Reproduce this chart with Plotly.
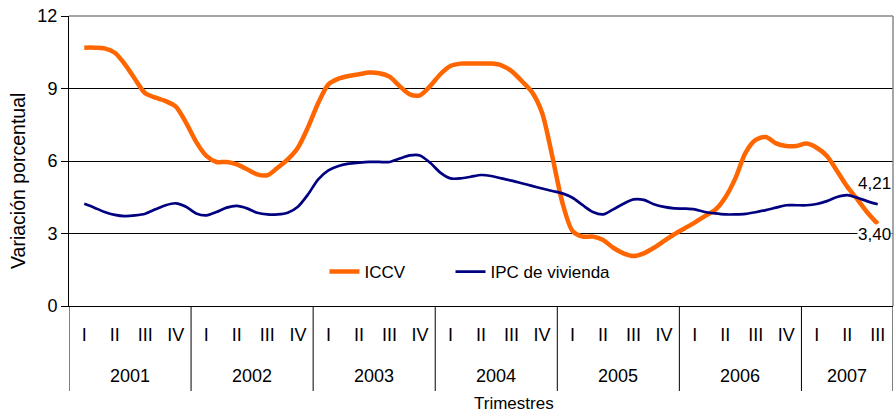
import numpy as np
import plotly.graph_objects as go

# Monthly series, Jan 2001 .. Sep 2007 (79 points, first/last at centre of first/last quarter)
iccv = [10.69, 10.69, 10.66, 10.48, 10.0, 9.38, 8.8, 8.62, 8.48, 8.25, 7.59, 6.79, 6.21, 5.96, 5.96, 5.86, 5.66, 5.45, 5.41, 5.72,
        6.07, 6.55, 7.4, 8.4, 9.17, 9.41, 9.52, 9.59, 9.66, 9.63, 9.49, 9.10, 8.76, 8.72, 9.10, 9.59, 9.93, 10.03, 10.03, 10.03,
        10.03, 9.96, 9.72, 9.31, 8.86, 8.0, 6.21, 4.28, 3.10, 2.87, 2.87, 2.73, 2.41, 2.18, 2.07, 2.18, 2.41, 2.69, 2.97, 3.21,
        3.45, 3.72, 3.97, 4.48, 5.28, 6.34, 6.87, 6.99, 6.73, 6.62, 6.62, 6.72, 6.55, 6.21, 5.59, 4.94, 4.41, 3.86, 3.40]
ipc_vivienda = [4.23, 4.07, 3.89, 3.77, 3.72, 3.75, 3.82, 4.0, 4.17, 4.25, 4.11, 3.83, 3.75, 3.89, 4.07, 4.14, 4.04, 3.86, 3.79, 3.79,
                3.86, 4.11, 4.62, 5.24, 5.61, 5.79, 5.89, 5.93, 5.96, 5.96, 5.96, 6.10, 6.23, 6.23, 5.93, 5.52, 5.28, 5.28, 5.35, 5.42,
                5.38, 5.28, 5.19, 5.08, 4.97, 4.86, 4.76, 4.66, 4.48, 4.17, 3.89, 3.79, 4.0, 4.23, 4.41, 4.39, 4.21, 4.10, 4.04, 4.03,
                4.0, 3.89, 3.83, 3.79, 3.79, 3.81, 3.88, 3.97, 4.07, 4.17, 4.17, 4.17, 4.22, 4.34, 4.51, 4.59, 4.48, 4.33, 4.21]

years = ["2001", "2002", "2003", "2004", "2005", "2006", "2007"]
quarters_per_year = [4, 4, 4, 4, 4, 4, 3]
quarter_labels = ["I", "II", "III", "IV"]
y_ticks = [0, 3, 6, 9, 12]

FONT = "Liberation Sans, Arial, sans-serif"
ORANGE = "#FF6600"
NAVY = "#000080"

n = len(iccv)
x_month = 0.5 + np.arange(n) / 3.0  # position in quarter units

# quarter ticks
q_vals, q_text = [], []
bounds = [0]
for nq in quarters_per_year:
    start = bounds[-1]
    for k in range(nq):
        q_vals.append(start + k + 0.5)
        q_text.append(quarter_labels[k])
    bounds.append(start + nq)
total_q = bounds[-1]

fig = go.Figure()
fig.add_trace(go.Scatter(x=x_month, y=iccv, name="ICCV", mode="lines", legend="legend",
                         line=dict(color=ORANGE, width=4.5, shape="spline", smoothing=0.8)))
fig.add_trace(go.Scatter(x=x_month, y=ipc_vivienda, name="IPC de vivienda", mode="lines", legend="legend2",
                         line=dict(color=NAVY, width=2.7, shape="spline", smoothing=0.8)))

shapes = []
for b in bounds:
    shapes.append(dict(type="line", xref="x", yref="paper", x0=b, x1=b, y0=0, y1=-0.293,
                       line=dict(color="black", width=1)))
# plot-area border (top and right) in grey
shapes.append(dict(type="line", xref="paper", yref="paper", x0=0, x1=1, y0=1, y1=1,
                   line=dict(color="#888888", width=1.5)))
shapes.append(dict(type="line", xref="paper", yref="paper", x0=1, x1=1, y0=0, y1=1,
                   line=dict(color="#888888", width=1.5)))

annotations = []
for i, yr in enumerate(years):
    annotations.append(dict(x=(bounds[i] + bounds[i + 1]) / 2, y=-0.241, xref="x", yref="paper",
                             text=yr, showarrow=False, yanchor="middle",
                             font=dict(family=FONT, size=18, color="black")))
annotations.append(dict(x=0.54, y=-0.335, xref="paper", yref="paper", text="Trimestres",
                        showarrow=False, yanchor="middle",
                        font=dict(family=FONT, size=17, color="black")))
annotations.append(dict(x=-0.0619, y=0.431, xref="paper", yref="paper", text="Variación porcentual",
                        showarrow=False, textangle=-90, xanchor="center", yanchor="middle",
                        font=dict(family=FONT, size=19.5, color="black")))
annotations.append(dict(x=x_month[-1], y=ipc_vivienda[-1], xref="x", yref="y",
                        text=f"{ipc_vivienda[-1]:.2f}".replace(".", ","), showarrow=False,
                        yshift=21, xshift=-3, font=dict(family=FONT, size=17, color="black")))
annotations.append(dict(x=x_month[-1], y=iccv[-1], xref="x", yref="y",
                        text=f"{iccv[-1]:.2f}".replace(".", ","), showarrow=False,
                        yshift=-11, xshift=-3, bgcolor="white", borderpad=0,
                        font=dict(family=FONT, size=17, color="black")))

legend_common = dict(orientation="h", y=0.117, xanchor="left", yanchor="middle",
                     bgcolor="rgba(0,0,0,0)", font=dict(family=FONT, size=17, color="black"))

fig.update_layout(
    width=896, height=414,
    margin=dict(l=69, r=3, t=16, b=108, autoexpand=False),
    paper_bgcolor="white", plot_bgcolor="white",
    font=dict(family=FONT, size=18, color="black"),
    showlegend=True,
    legend=dict(x=0.31, **legend_common),
    legend2=dict(x=0.463, **legend_common),
    xaxis=dict(range=[0, total_q], tickmode="array", tickvals=q_vals, ticktext=q_text,
               automargin=False,
               showgrid=False, zeroline=False, showline=True, linecolor="black", linewidth=1,
               ticks="outside", ticklen=12, tickcolor="rgba(0,0,0,0)",
               tickfont=dict(family=FONT, size=18, color="black")),
    yaxis=dict(range=[0, 12], tickmode="array", tickvals=y_ticks, automargin=False,
               showgrid=True, gridcolor="black", gridwidth=1, zeroline=False,
               showline=True, linecolor="black", linewidth=1,
               ticks="outside", ticklen=7, tickcolor="black",
               tickfont=dict(family=FONT, size=18, color="black")),
    shapes=shapes,
    annotations=annotations,
)

fig.write_html("out.html", config={"displayModeBar": False},
               post_script="document.body.style.margin='0';document.body.style.padding='0';"
                           "document.documentElement.style.overflow='hidden';")
